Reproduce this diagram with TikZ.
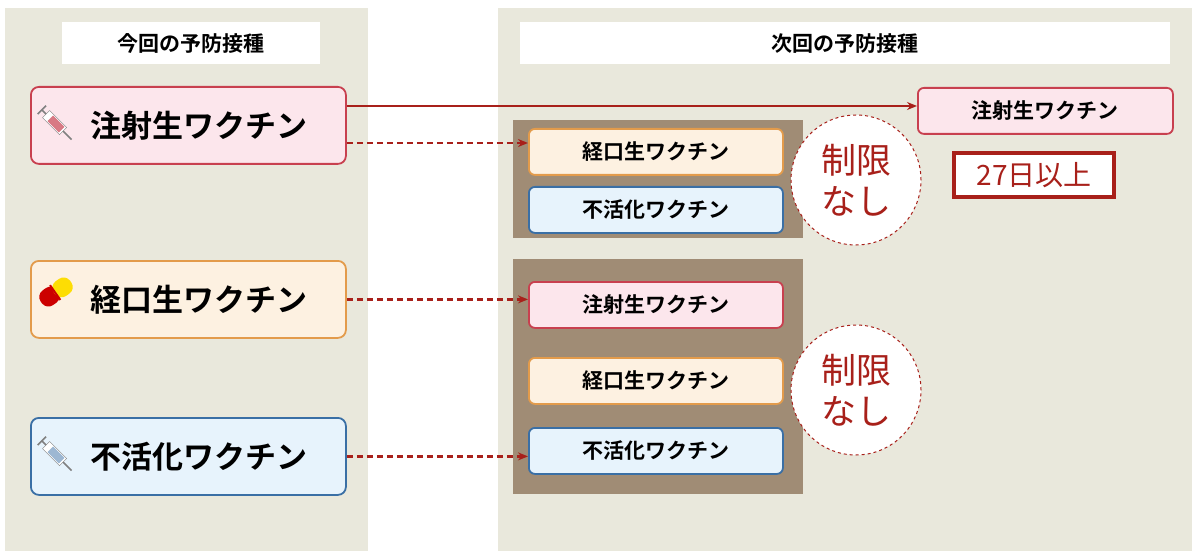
\documentclass[tikz,border=0pt]{standalone}
\usepackage{fontspec}
\newfontfamily\jp{Noto Sans CJK JP}
\newfontfamily\jpb{Noto Sans CJK JP Bold}
\usetikzlibrary{arrows.meta}
\definecolor{panel}{HTML}{E9E8DC}
\definecolor{pinkf}{HTML}{FCE6EC}\definecolor{pinkd}{HTML}{C8404F}
\definecolor{orf}{HTML}{FDF1E1}\definecolor{ord}{HTML}{E39B4B}
\definecolor{blf}{HTML}{E7F3FC}\definecolor{bld}{HTML}{3A6FA5}
\definecolor{brown}{HTML}{A08C75}\definecolor{dred}{HTML}{A8201A}
\begin{document}
\begin{tikzpicture}[x=1pt,y=-1pt,
 big/.style={draw,line width=1.8pt,rounded corners=8pt,minimum width=315pt,minimum height=77pt,font=\jpb\fontsize{31}{31}\selectfont,anchor=north west},
 small/.style={draw,line width=1.8pt,rounded corners=6pt,minimum width=254pt,minimum height=46pt,font=\jpb\fontsize{21}{21}\selectfont,anchor=north west},
 pk/.style={fill=pinkf,draw=pinkd},og/.style={fill=orf,draw=ord},bl/.style={fill=blf,draw=bld},
 hdr/.style={fill=white,anchor=north west,minimum height=42pt,font=\jpb\fontsize{21}{21}\selectfont},
 circ/.style={circle,draw=dred,dashed,fill=white,line width=1pt,minimum size=130pt,text=dred,align=center,font=\jp\fontsize{35}{41}\selectfont},
 arr/.style={-{Stealth[length=10pt,width=8pt]},draw=dred,line width=2.2pt},
 darr/.style={arr,dash pattern=on 6pt off 4pt}]
\useasboundingbox (0,0) rectangle (1200,559);
\fill[white] (0,0) rectangle (1200,559);
\fill[panel] (5,8) rectangle (368,551);
\fill[panel] (498,8) rectangle (1192,551);
\node[hdr,minimum width=258pt] (h1) at (62,22) {今回の予防接種};
\node[hdr,minimum width=650pt] (h2) at (520,22) {次回の予防接種};
\node[big,pk] (a) at (30,86) {\hspace*{22pt}注射生ワクチン};
\node[big,og] (b) at (30,260) {\hspace*{22pt}経口生ワクチン};
\node[big,bl] (c) at (30,417) {\hspace*{22pt}不活化ワクチン};
% icons
\begin{scope}[shift={(56,124)},rotate=-45]
\draw[fill=white,draw=gray] (-14,-5) rectangle (10,5);
\fill[pinkd!70] (-8,-4) rectangle (8,4);
\draw[gray,line width=1.5pt] (10,0) -- (22,0) (-14,0) -- (-20,0) (-20,-6) -- (-20,6);
\end{scope}
\begin{scope}[shift={(56,455)},rotate=-45]
\draw[fill=white,draw=gray] (-14,-5) rectangle (10,5);
\fill[bld!50] (-8,-4) rectangle (8,4);
\draw[gray,line width=1.5pt] (10,0) -- (22,0) (-14,0) -- (-20,0) (-20,-6) -- (-20,6);
\end{scope}
\begin{scope}[shift={(56,292)},rotate=35]
\fill[red!80!black,rounded corners=8pt] (-18,-9) rectangle (2,9);
\fill[yellow!80!orange,rounded corners=8pt] (-2,-9) rectangle (18,9);
\fill[red!80!black] (-2,-9) rectangle (0,9);
\end{scope}
\fill[brown] (513,120) rectangle (803,238);
\fill[brown] (513,259) rectangle (803,494);
\node[small,og] (g1) at (528,128) {経口生ワクチン};
\node[small,bl] (g2) at (528,186) {不活化ワクチン};
\node[small,pk] (g3) at (528,281) {注射生ワクチン};
\node[small,og] (g4) at (528,357) {経口生ワクチン};
\node[small,bl] (g5) at (528,427) {不活化ワクチン};
\node[circ] (n1) at (856,180) {制限\\なし};
\node[circ] (n2) at (856,390) {制限\\なし};
\node[small,pk,minimum width=255pt] (t) at (917,87) {注射生ワクチン};
\node[draw=dred,line width=4pt,fill=white,anchor=north west,minimum width=160pt,minimum height=44pt,text=dred,font=\jp\fontsize{28}{28}\selectfont] (d) at (952,151) {27日以上};
\draw[arr] (a.east|-0,106) -- (t.west|-0,106);
\draw[darr] (a.east|-0,143) -- (g1.west|-0,143);
\draw[darr] (b.east) -- (g3.west|-b.east);
\draw[darr] (c.east) -- (g5.west|-c.east);
\end{tikzpicture}
\end{document}
